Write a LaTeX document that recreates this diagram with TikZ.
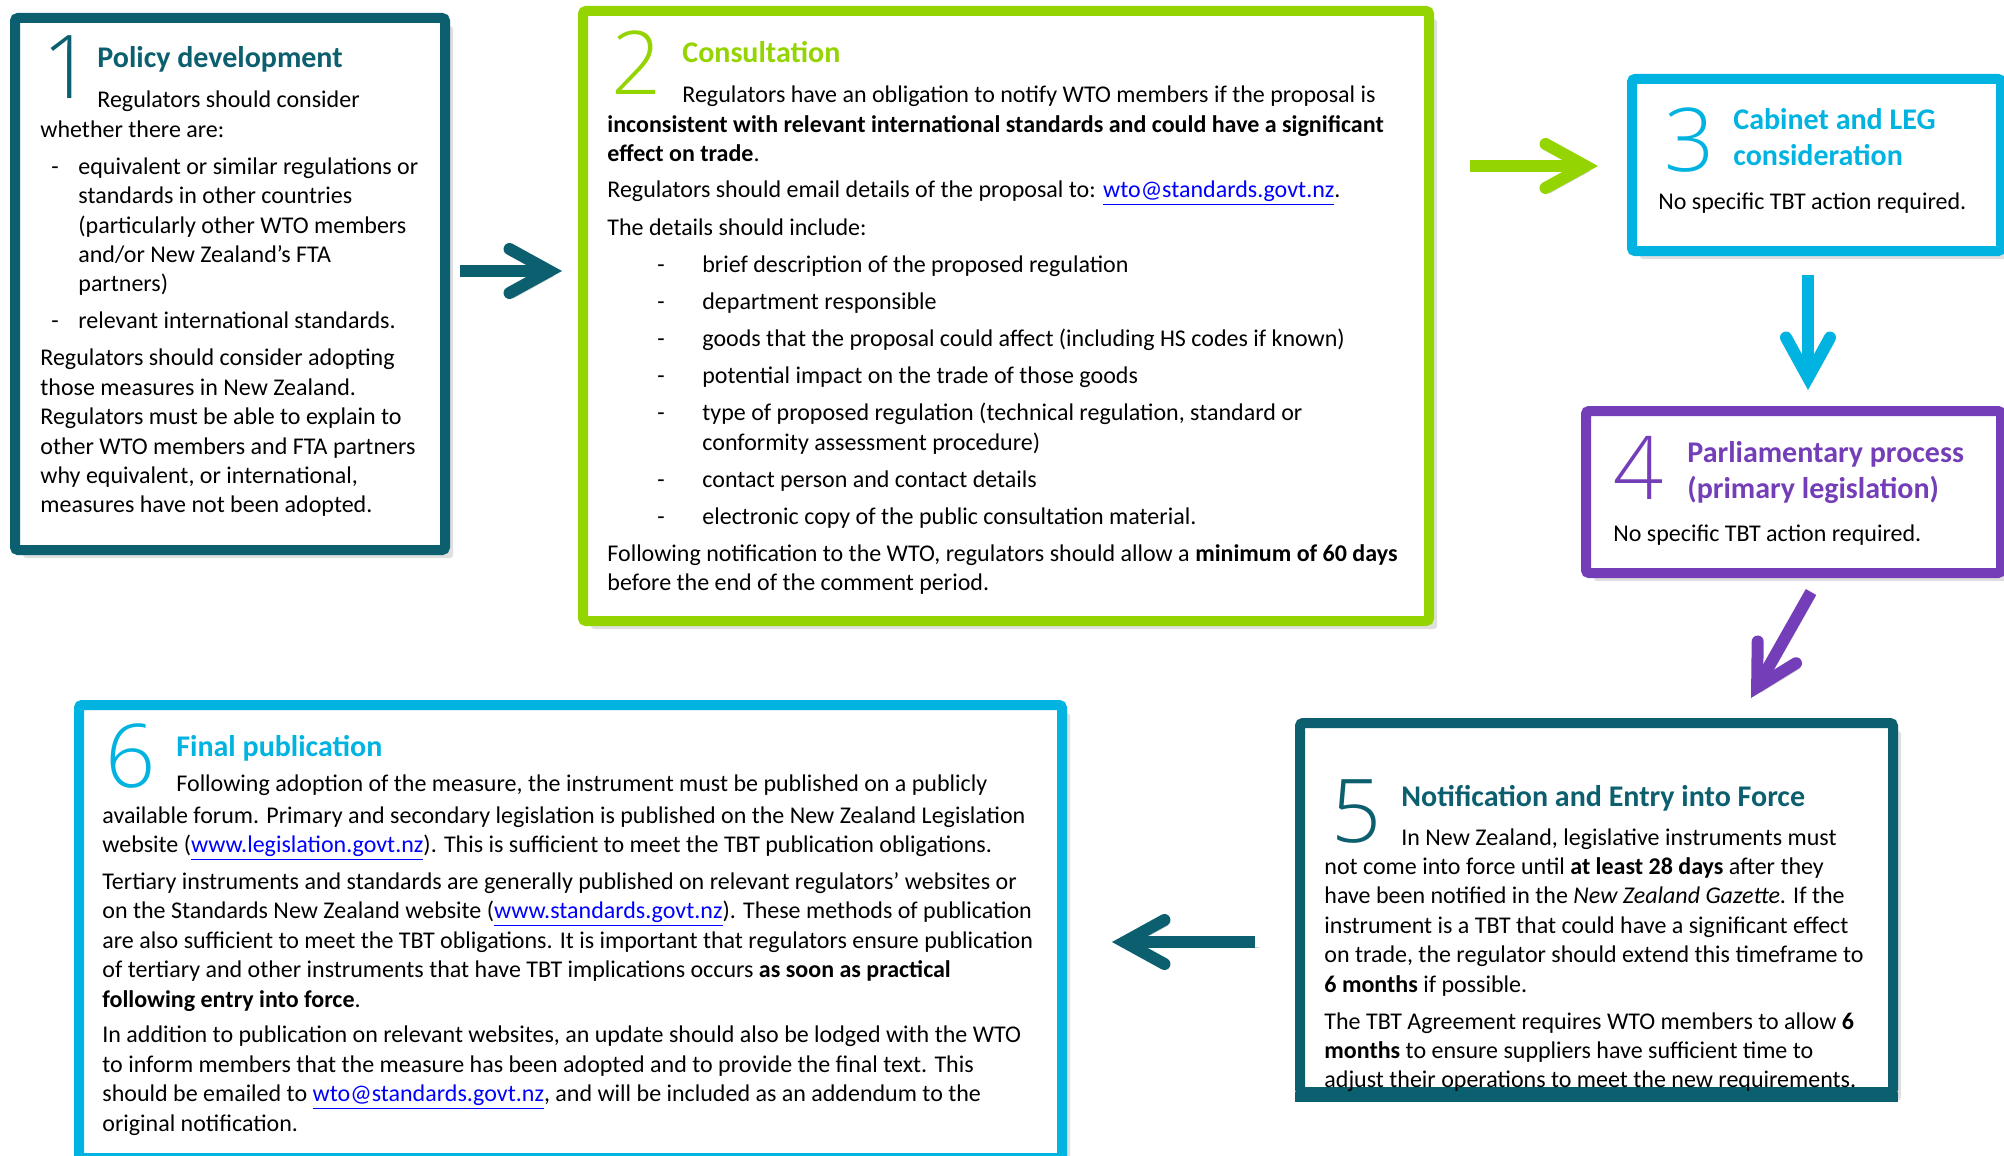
\documentclass[tikz,border=0pt]{standalone}
\usepackage{fontspec}
\setmainfont{Carlito}
\newfontfamily\bignum{Open Sans Light}
\usetikzlibrary{arrows.meta,shadows}

\definecolor{tbtteal}{HTML}{0B5F6E}
\definecolor{tbtgreen}{HTML}{94D400}
\definecolor{tbtcyan}{HTML}{00B3E0}
\definecolor{tbtpurple}{HTML}{743EB8}
\definecolor{tbtlink}{HTML}{0000FF}

\newcommand{\weblink}[1]{{\color{tbtlink}\underline{#1}}}
\newcommand{\dashitem}[3]{\makebox[#2][l]{\hspace*{#1}-}#3}
\newcommand{\dashcont}[2]{\hspace*{#1}#2}
\newcommand{\toplines}[1]{\begin{tabular}[t]{@{}l@{}}#1\end{tabular}}

\tikzset{
  stepbox/.style={draw=#1, line width=5pt, fill=white, rounded corners=1.5pt,
    drop shadow={shadow xshift=4pt, shadow yshift=-4pt, opacity=.25}},
  stepnum/.style={anchor=base west, inner sep=0pt, text=#1,
    font=\bignum\fontsize{44}{44}\selectfont},
  stephead/.style={anchor=base west, inner sep=0pt, text=#1,
    font=\bfseries\fontsize{15}{18}\selectfont},
  steptext/.style={anchor=base west, inner sep=0pt,
    font=\fontsize{12}{14.7}\selectfont},
  flow/.style={draw=#1, line width=6pt,
    -{Straight Barb[length=20pt, width=22pt, line cap=round, line join=miter]},
    preaction={draw=black, opacity=.18, transform canvas={shift={(2pt,-2.5pt)}}}},
}

\begin{document}
\begin{tikzpicture}[x=0.5pt, y=-0.5pt]
  \useasboundingbox (0,0) rectangle (2004,1156);

  % Boxes
  \node[stepbox=tbtteal, minimum width=215pt, minimum height=266pt] (policy) at (230,284) {};
  \node[stepbox=tbtgreen, minimum width=423pt, minimum height=305pt] (consult) at (1006,316) {};
  \node[stepbox=tbtcyan, minimum width=184.5pt, minimum height=86pt] (cabinet) at (1816.5,165) {};
  \node[stepbox=tbtpurple, minimum width=207.5pt, minimum height=81pt] (parl) at (1793.5,492) {};
  \node[stepbox=tbtteal, minimum width=296.5pt, minimum height=184.5pt] (notify) at (1596.5,907.5) {};
  \node[stepbox=tbtcyan, minimum width=491.5pt, minimum height=226.5pt] (final) at (570.5,931.5) {};

  % Step 1
  \node[stepnum=tbtteal] (num1) at (42,99) {1};
  \node[stephead=tbtteal] (head1) at (97,68) {Policy development};
  \node[steptext] (text1) at (40,108) {\toplines{%
    \hspace*{28.5pt}Regulators should consider\\
    whether there are:\\[3.8pt]
    \dashitem{5.5pt}{19pt}{equivalent or similar regulations or}\\
    \dashcont{19pt}{standards in other countries}\\
    \dashcont{19pt}{(particularly other WTO members}\\
    \dashcont{19pt}{and/or New Zealand’s FTA}\\
    \dashcont{19pt}{partners)}\\[3.8pt]
    \dashitem{5.5pt}{19pt}{relevant international standards.}\\[3.8pt]
    Regulators should consider adopting\\
    those measures in New Zealand.\\
    Regulators must be able to explain to\\
    other WTO members and FTA partners\\
    why equivalent, or international,\\
    measures have not been adopted.}};

  % Step 2
  \node[stepnum=tbtgreen] (num2) at (611,95) {2};
  \node[stephead=tbtgreen] (head2) at (682,63) {Consultation};
  \node[steptext] (text2) at (607,103) {\toplines{%
    \hspace*{37.5pt}Regulators have an obligation to notify WTO members if the proposal is\\
    \textbf{inconsistent with relevant international standards and could have a significant}\\
    \textbf{effect on trade}.\\[3.2pt]
    Regulators should email details of the proposal to: \weblink{wto@standards.govt.nz}.\\[4.5pt]
    The details should include:\\[3.8pt]
    \dashitem{25pt}{47.5pt}{brief description of the proposed regulation}\\[3.8pt]
    \dashitem{25pt}{47.5pt}{department responsible}\\[3.8pt]
    \dashitem{25pt}{47.5pt}{goods that the proposal could affect (including HS codes if known)}\\[3.8pt]
    \dashitem{25pt}{47.5pt}{potential impact on the trade of those goods}\\[3.8pt]
    \dashitem{25pt}{47.5pt}{type of proposed regulation (technical regulation, standard or}\\
    \dashcont{47.5pt}{conformity assessment procedure)}\\[3.8pt]
    \dashitem{25pt}{47.5pt}{contact person and contact details}\\[3.8pt]
    \dashitem{25pt}{47.5pt}{electronic copy of the public consultation material.}\\[3.8pt]
    Following notification to the WTO, regulators should allow a \textbf{minimum of 60 days}\\
    before the end of the comment period.}};

  % Step 3
  \node[stepnum=tbtcyan] (num3) at (1664,171) {3};
  \node[stephead=tbtcyan] (head3) at (1733,130) {\toplines{Cabinet and LEG\\consideration}};
  \node[steptext] (text3) at (1658,209) {No specific TBT action required.};

  % Step 4
  \node[stepnum=tbtpurple] (num4) at (1613,499) {4};
  \node[stephead=tbtpurple] (head4) at (1687,462) {\toplines{Parliamentary process\\(primary legislation)}};
  \node[steptext] (text4) at (1613,541) {No specific TBT action required.};

  % Step 5
  \node[stepnum=tbtteal] (num5) at (1331,842) {5};
  \node[stephead=tbtteal] (head5) at (1401,806) {Notification and Entry into Force};
  \node[steptext] (text5) at (1324,845) {\toplines{%
    \hspace*{38.5pt}In New Zealand, legislative instruments must\\
    not come into force until \textbf{at least 28 days} after they\\
    have been notified in the \textit{New Zealand Gazette}. If the\\
    instrument is a TBT that could have a significant effect\\
    on trade, the regulator should extend this timeframe to\\
    \textbf{6 months} if possible.\\[3.8pt]
    The TBT Agreement requires WTO members to allow \textbf{6}\\
    \textbf{months} to ensure suppliers have sufficient time to\\
    adjust their operations to meet the new requirements.}};
  \draw[tbtteal, line width=5pt] (notify.south west) -- (notify.south east);

  % Step 6
  \node[stepnum=tbtcyan] (num6) at (105,787) {6};
  \node[stephead=tbtcyan] (head6) at (176,756) {Final publication};
  \node[steptext] (text6) at (102,791) {\toplines{%
    \hspace*{37pt}Following adoption of the measure, the instrument must be published on a publicly\\[1.3pt]
    available forum. Primary and secondary legislation is published on the New Zealand Legislation\\
    website (\weblink{www.legislation.govt.nz}). This is sufficient to meet the TBT publication obligations.\\[3.8pt]
    Tertiary instruments and standards are generally published on relevant regulators’ websites or\\
    on the Standards New Zealand website (\weblink{www.standards.govt.nz}). These methods of publication\\
    are also sufficient to meet the TBT obligations. It is important that regulators ensure publication\\
    of tertiary and other instruments that have TBT implications occurs \textbf{as soon as practical}\\
    \textbf{following entry into force}.\\[3.2pt]
    In addition to publication on relevant websites, an update should also be lodged with the WTO\\
    to inform members that the measure has been adopted and to provide the final text. This\\
    should be emailed to \weblink{wto@standards.govt.nz}, and will be included as an addendum to the\\
    original notification.}};

  % Arrows
  \draw[flow=tbtteal] ([shift={(10,-13)}]policy.east) -- ([shift={(-16,-45)}]consult.west);
  \draw[flow=tbtgreen] ([shift={(36,-150)}]consult.east) -- ([shift={(-29,1)}]cabinet.west);
  \draw[flow=tbtcyan] ([shift={(-8.5,19)}]cabinet.south) -- ([shift={(14.5,-16)}]parl.north);
  \draw[flow=tbtpurple] ([shift={(17.5,14)}]parl.south) -- ([shift={(154.5,-20)}]notify.north);
  \draw[flow=tbtteal] ([shift={(-40,34.5)}]notify.west) -- ([shift={(45,10.5)}]final.east);
\end{tikzpicture}
\end{document}
